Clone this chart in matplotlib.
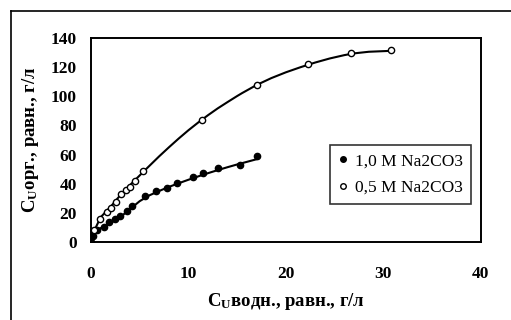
import matplotlib
matplotlib.use("Agg")
import matplotlib.pyplot as plt
from matplotlib.lines import Line2D

plt.rcParams['font.family'] = ['Liberation Serif', 'DejaVu Serif']
plt.rcParams['mathtext.fontset'] = 'custom'
plt.rcParams['mathtext.rm'] = 'Liberation Serif'
plt.rcParams['mathtext.bf'] = 'Liberation Serif:bold'

# 1,0 M Na2CO3 (filled)
x_10 = [0, 0.2, 0.6, 1.3, 1.9, 2.5, 3.0, 3.7, 4.2, 5.5, 6.7, 7.8, 8.8, 10.5, 11.5, 13.0, 15.3, 17.0]
y_10 = [0, 4, 8, 10, 13.4, 15.6, 17.5, 21.3, 24.7, 31.5, 35, 37.2, 40.6, 44.7, 47, 50.8, 53, 59]
# 0,5 M Na2CO3 (open)
x_05 = [0.3, 0.9, 1.6, 2.1, 2.6, 3.1, 3.6, 4.0, 4.5, 5.3, 11.4, 17.0, 22.3, 26.7, 30.8]
y_05 = [8, 15.6, 20.6, 23.6, 27.4, 32.7, 36, 38, 41.7, 48.5, 83.7, 107.5, 122, 130, 131.7]
# fitted curves
cx_10 = [0, 0.5, 1, 1.5, 2, 3, 4, 5, 6, 7, 8, 9, 10, 11, 12, 13, 14, 15, 16, 17]
cy_10 = [0, 7, 9.5, 11, 13, 17, 22.5, 28, 32, 35, 37.8, 40.3, 42.7, 45, 47.2, 49.3, 51.3, 53.2, 55, 56.8]
cx_05 = [0, 0.5, 1, 2, 3, 4, 5.5, 7, 8, 9, 10, 11, 12, 13, 14, 15, 15.5, 17, 18.5, 20, 21.5, 23, 24.5, 26, 27, 28.5, 31]
cy_05 = [0, 10, 17, 24, 32, 39, 49, 58.8, 65, 71, 76.7, 82, 87, 91.7, 96, 100.2, 102.2, 107.8, 112.5, 116.5, 120, 123.2, 126, 128.3, 129.5, 130.6, 131.3]

xticks = [0, 10, 20, 30, 40]
yticks = [0, 20, 40, 60, 80, 100, 120, 140]

fig = plt.figure(figsize=(5.11, 3.2), dpi=100)
ax = fig.add_axes([0.178, 0.244, 0.763, 0.637])

ax.plot(cx_05, cy_05, color='black', lw=1.5)
ax.plot(cx_10, cy_10, color='black', lw=1.5)
ax.plot(x_10, y_10, 'o', color='black', ms=4.5, mfc='black', mec='black')
ax.plot(x_05, y_05, 'o', color='black', ms=4.5, mfc='white', mec='black', mew=1)

ax.set_xlim(0, 40)
ax.set_ylim(0, 140)
ax.set_xticks(xticks)
ax.set_yticks(yticks)
ax.tick_params(axis='x', length=0, pad=17, labelsize=12.5)
ax.tick_params(axis='y', length=0, pad=10, labelsize=12.5)
for lab in ax.get_xticklabels() + ax.get_yticklabels():
    lab.set_fontweight('bold')
for s in ax.spines.values():
    s.set_linewidth(1.4)

ax.set_xlabel(r"$\mathbf{C_U}$водн., равн., г/л", fontsize=13.5, fontweight='bold', labelpad=7)
ax.set_ylabel(r"$\mathbf{C_U}$орг., равн., г/л", fontsize=13.5, fontweight='bold', labelpad=7)

handles = [Line2D([], [], ls='none', marker='o', ms=4, mfc='black', mec='black'),
           Line2D([], [], ls='none', marker='o', ms=4, mfc='white', mec='black')]
leg = ax.legend(handles, ['1,0 M Na2CO3', '0,5 M Na2CO3'], loc='center right',
                bbox_to_anchor=(0.975, 0.33), fontsize=12.5, frameon=True, fancybox=False,
                edgecolor='black', handlelength=0.6, handletextpad=0.4, borderpad=0.45,
                labelspacing=0.6, borderaxespad=0)
leg.get_frame().set_linewidth(1.2)

# outer frame (top and left visible)
fig.add_artist(Line2D([11/511, 1], [1 - 11/320, 1 - 11/320], color='black', lw=1.2, transform=fig.transFigure))
fig.add_artist(Line2D([11/511, 11/511], [0, 1 - 11/320], color='black', lw=1.2, transform=fig.transFigure))

fig.savefig('out.png', dpi=100)
